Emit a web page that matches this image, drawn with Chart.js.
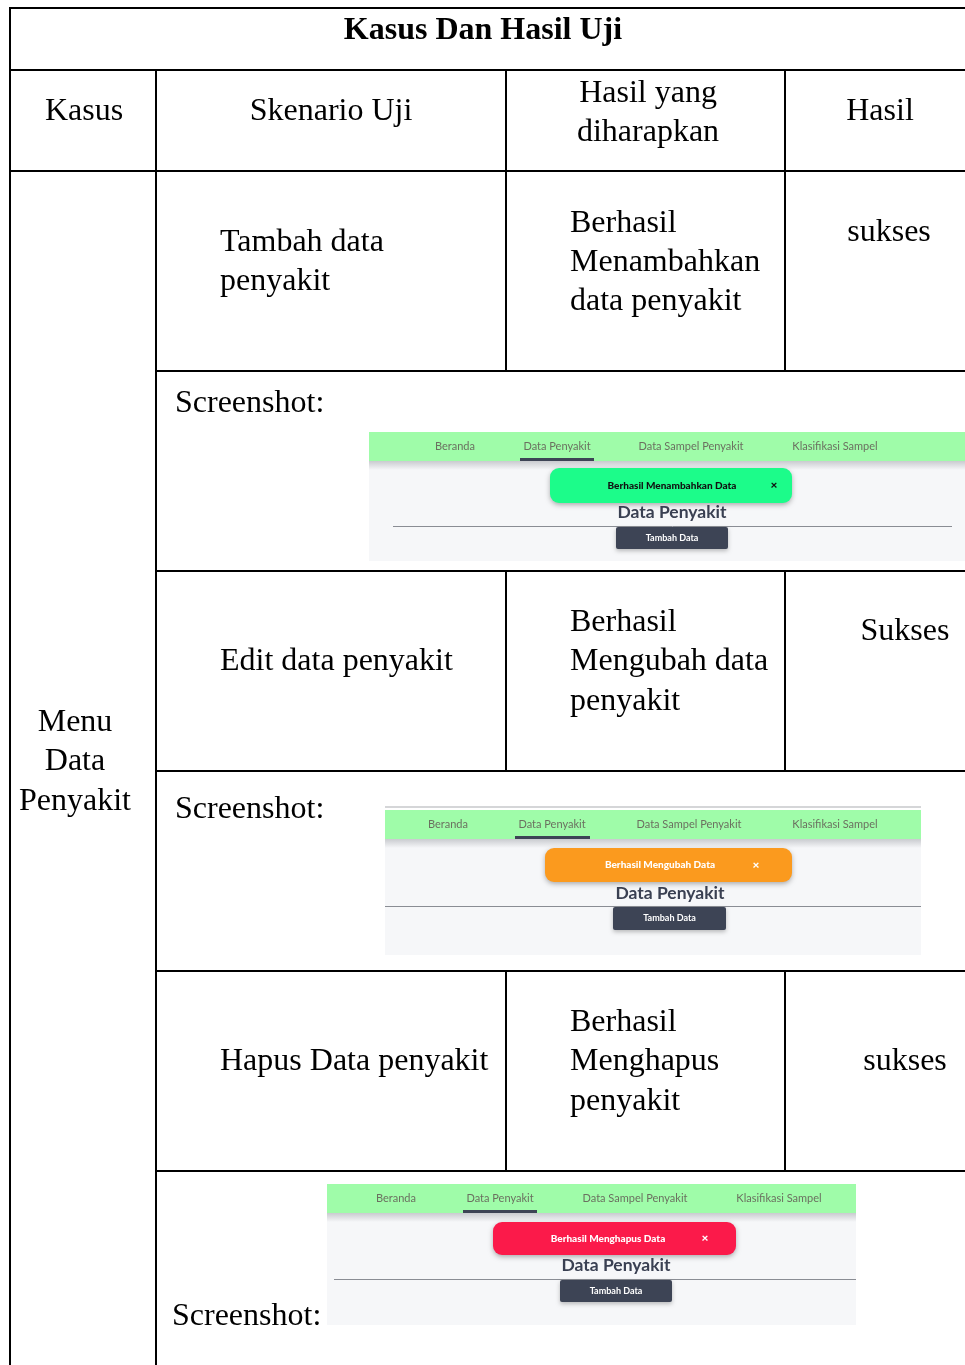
<!DOCTYPE html>
<html>
<head>
<meta charset="utf-8">
<script src="https://cdn.jsdelivr.net/npm/chart.js@4.4.1/dist/chart.umd.min.js"></script>
<style>
  body { margin: 0; background: #fff; }
  #wrap { width: 965px; height: 1365px; position: relative; }
</style>
</head>
<body>
<div id="wrap"><canvas id="tableChart"></canvas></div>
<script>
// table content
const title = "Kasus Dan Hasil Uji";
const headers = ["Kasus", "Skenario Uji", "Hasil yang\ndiharapkan", "Hasil"];
const caseName = ["Menu", "Data", "Penyakit"];
const scenarios = [["Tambah data", "penyakit"], ["Edit data penyakit"], ["Hapus Data penyakit"]];
const expected = [
  ["Berhasil", "Menambahkan", "data penyakit"],
  ["Berhasil", "Mengubah data", "penyakit"],
  ["Berhasil", "Menghapus", "penyakit"]
];
const results = ["sukses", "Sukses", "sukses"];
const navItems = ["Beranda", "Data Penyakit", "Data Sampel Penyakit", "Klasifikasi Sampel"];
const toastMessages = ["Berhasil Menambahkan Data", "Berhasil Mengubah Data", "Berhasil Menghapus Data"];
const toastColors = ["#1cfc8a", "#fb9a1e", "#fb1a4a"];
const toastTextColors = ["#111", "#fff", "#fff"];

const SERIF = '"Liberation Serif", "Times New Roman", serif';
const SANS = 'Lato, "Open Sans", sans-serif';

// layout
const colX = [10, 156, 506, 785, 965];
const rowY = [8, 70, 171, 371, 571, 771, 971, 1171, 1365];
const scenarioY = [[240, 279], [659], [1059]];
const expectedY = [[221, 260, 299], [620, 659, 699], [1020, 1059, 1099]];
const resultPos = [[889, 230], [905, 629], [905, 1059]];
const shotLabel = [[175, 401], [175, 807], [172, 1314]];
const shots = [
  { x: 369, y: 432, w: 596, h: 129, top: 0, nav: [455, 557, 691, 835], ul: [520, 594], toast: [550, 468, 242, 35], tx: 672, cx: 774, head: [672, 512], line: [393, 952, 526], btn: [616, 527, 112, 22] },
  { x: 385, y: 806, w: 536, h: 149, top: 4, nav: [448, 552, 689, 835], ul: [515, 590], toast: [545, 848, 247, 34], tx: 660, cx: 756, head: [670, 893], line: [385, 921, 906], btn: [613, 907, 113, 23] },
  { x: 327, y: 1184, w: 529, h: 141, top: 0, nav: [396, 500, 635, 779], ul: [463, 537], toast: [493, 1222, 243, 33], tx: 608, cx: 705, head: [616, 1265], line: [334, 856, 1279], btn: [560, 1280, 112, 22] }
];

function roundRect(ctx, x, y, w, h, r) {
  ctx.beginPath();
  ctx.moveTo(x + r, y);
  ctx.arcTo(x + w, y, x + w, y + h, r);
  ctx.arcTo(x + w, y + h, x, y + h, r);
  ctx.arcTo(x, y + h, x, y, r);
  ctx.arcTo(x, y, x + w, y, r);
  ctx.closePath();
}

const tablePlugin = {
  id: "tablePlugin",
  afterDraw(chart) {
    const ctx = chart.ctx;
    const sx = chart.scales.x, sy = chart.scales.y;
    const X = v => sx.getPixelForValue(v);
    const Y = v => sy.getPixelForValue(v);
    ctx.save();

    // screenshots
    shots.forEach((s, i) => {
      const ny = s.y + s.top;
      ctx.fillStyle = "#f6f7f9";
      ctx.fillRect(X(s.x), Y(s.y), s.w, s.h);
      if (s.top) {
        ctx.fillStyle = "#fff";
        ctx.fillRect(X(s.x), Y(s.y), s.w, s.top);
        ctx.fillStyle = "#d5d6d8";
        ctx.fillRect(X(s.x), Y(s.y), s.w, 2);
      }
      ctx.fillStyle = "#9ffca9";
      ctx.fillRect(X(s.x), Y(ny), s.w, 29);
      const g = ctx.createLinearGradient(0, Y(ny + 29), 0, Y(ny + 38));
      g.addColorStop(0, "#c9cbcf");
      g.addColorStop(1, "#f6f7f9");
      ctx.fillStyle = g;
      ctx.fillRect(X(s.x), Y(ny + 29), s.w, 9);
      ctx.font = "11px " + SANS;
      ctx.fillStyle = "#6b7060";
      ctx.textAlign = "center";
      ctx.textBaseline = "middle";
      navItems.forEach((n, k) => ctx.fillText(n, X(s.nav[k]), Y(ny + 14)));
      ctx.fillStyle = "#3d4455";
      ctx.fillRect(X(s.ul[0]), Y(ny + 26), s.ul[1] - s.ul[0], 3);

      const t = s.toast;
      ctx.shadowColor = "rgba(0,0,0,0.3)";
      ctx.shadowBlur = 5;
      ctx.shadowOffsetY = 2;
      ctx.fillStyle = toastColors[i];
      roundRect(ctx, X(t[0]), Y(t[1]), t[2], t[3], 9);
      ctx.fill();
      ctx.shadowColor = "transparent";
      ctx.fillStyle = toastTextColors[i];
      ctx.font = "900 10px " + SANS;
      ctx.fillText(toastMessages[i], X(s.tx), Y(t[1] + t[3] / 2));
      ctx.font = "900 12px " + SANS;
      ctx.fillText("\u00d7", X(s.cx), Y(t[1] + t[3] / 2));

      ctx.fillStyle = "#3a4052";
      ctx.font = "bold 17.5px " + SANS;
      ctx.fillText("Data Penyakit", X(s.head[0]), Y(s.head[1]));
      ctx.strokeStyle = "#8a8d94";
      ctx.lineWidth = 1;
      ctx.beginPath();
      ctx.moveTo(X(s.line[0]), Y(s.line[2]) + 0.5);
      ctx.lineTo(X(s.line[1]), Y(s.line[2]) + 0.5);
      ctx.stroke();
      const b = s.btn;
      ctx.shadowColor = "rgba(0,0,0,0.25)";
      ctx.shadowBlur = 4;
      ctx.shadowOffsetY = 2;
      ctx.fillStyle = "#3d4455";
      roundRect(ctx, X(b[0]), Y(b[1]), b[2], b[3], 2);
      ctx.fill();
      ctx.shadowColor = "transparent";
      ctx.fillStyle = "#fff";
      ctx.font = "bold 9px " + SANS;
      ctx.fillText("Tambah Data", X(b[0] + b[2] / 2), Y(b[1] + b[3] / 2));
    });

    // grid lines
    ctx.strokeStyle = "#000";
    ctx.lineWidth = 2;
    const hl = (x1, x2, y) => { ctx.beginPath(); ctx.moveTo(X(x1), Y(y)); ctx.lineTo(X(x2), Y(y)); ctx.stroke(); };
    const vl = (x, y1, y2) => { ctx.beginPath(); ctx.moveTo(X(x), Y(y1)); ctx.lineTo(X(x), Y(y2)); ctx.stroke(); };
    hl(colX[0] - 1, colX[4], rowY[0]);
    hl(colX[0], colX[4], rowY[1]);
    hl(colX[0], colX[4], rowY[2]);
    for (let r = 3; r < rowY.length - 1; r++) hl(colX[1], colX[4], rowY[r]);
    vl(colX[0], rowY[0], rowY[8]);
    vl(colX[1], rowY[1], rowY[8]);
    [colX[2], colX[3]].forEach(x => {
      vl(x, rowY[1], rowY[2]);
      vl(x, rowY[2], rowY[3]);
      vl(x, rowY[4], rowY[5]);
      vl(x, rowY[6], rowY[7]);
    });

    // text (dy nudges the middle baseline onto the visual centre)
    const dy = 2.5;
    const T = (s, x, y) => ctx.fillText(s, X(x), Y(y + dy));
    ctx.fillStyle = "#000";
    ctx.textBaseline = "middle";
    ctx.textAlign = "center";
    ctx.font = "bold 32px " + SERIF;
    T(title, 483, 28);
    ctx.font = "32px " + SERIF;
    T(headers[0], 84, 109);
    T(headers[1], 331, 109);
    headers[2].split("\n").forEach((l, k) => T(l, 648, 91 + k * 39));
    T(headers[3], 880, 109);
    caseName.forEach((l, k) => T(l, 75, 720 + k * 39.5));
    results.forEach((r, i) => T(r, resultPos[i][0], resultPos[i][1]));
    ctx.textAlign = "left";
    scenarios.forEach((lines, i) => lines.forEach((l, k) => T(l, 220, scenarioY[i][k])));
    expected.forEach((lines, i) => lines.forEach((l, k) => T(l, 570, expectedY[i][k])));
    shotLabel.forEach(p => T("Screenshot:", p[0], p[1]));
    ctx.restore();
  }
};

new Chart(document.getElementById("tableChart"), {
  type: "scatter",
  data: { datasets: [{ data: [], pointRadius: 0 }] },
  options: {
    responsive: true,
    maintainAspectRatio: false,
    animation: false,
    layout: { padding: 0 },
    plugins: { legend: { display: false }, tooltip: { enabled: false } },
    scales: {
      x: { type: "linear", min: 0, max: 965, display: false },
      y: { type: "linear", min: 0, max: 1365, reverse: true, display: false }
    }
  },
  plugins: [tablePlugin]
});
</script>
</body>
</html>
